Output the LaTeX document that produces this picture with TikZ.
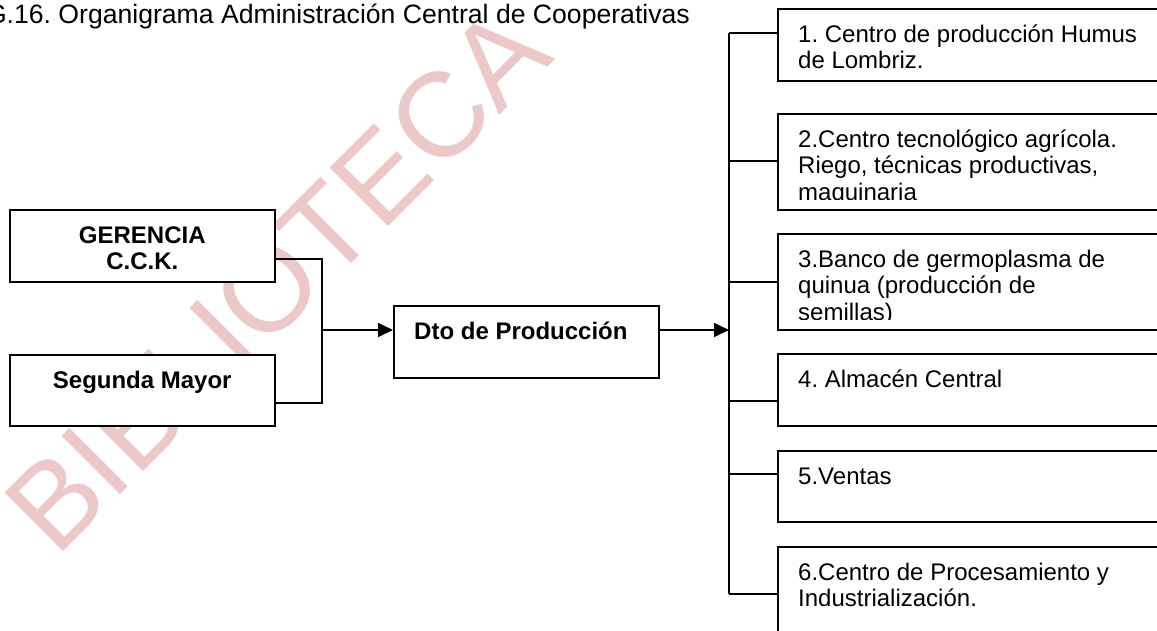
\documentclass[tikz,border=0pt]{standalone}
\usepackage{fontspec}
\setmainfont{Liberation Sans}
\usepackage{tikz}
\usetikzlibrary{calc,arrows.meta,positioning}
\definecolor{marca}{RGB}{236,200,200}
\frenchspacing
\tikzstyle{box} = [rectangle, draw, line width=1.5pt, fill=white, anchor=north west, inner sep=0pt]
\tikzstyle{txt} = [anchor=north west, inner sep=0pt, align=left, font=\fontsize{24}{26.5}\selectfont]
\tikzstyle{btxt} = [anchor=north, inner sep=0pt, align=center, font=\bfseries\fontsize{24}{26.5}\selectfont]
\tikzstyle{line} = [line width=1.5pt]
\tikzstyle{arrow} = [line width=1.5pt,-{Triangle[length=15pt,width=14pt]}]

\begin{document}
\begin{tikzpicture}[x=1pt,y=-1pt]
\useasboundingbox[fill=white] (0,0) rectangle (1157,630);
\node (marca) [anchor=base west, inner sep=0pt, rotate=45, text=marca, font=\fontsize{120}{130}\selectfont] at (56,559) {BIBLIOTECA};
\node (title) [anchor=base east, inner sep=0pt, font=\fontsize{26.6}{30}\selectfont] at (690,23) {FIG.16. Organigrama Administración Central de Cooperativas};
\node (ger) [box, minimum width=265pt, minimum height=72pt] at (9,209) {};
\node (seg) [box, minimum width=265pt, minimum height=71pt] at (9,354) {};
\node (dto) [box, minimum width=265pt, minimum height=72pt] at (393,305) {};
\node (b1) [box, minimum width=403pt, minimum height=72pt] at (777,8) {};
\node (b2) [box, minimum width=403pt, minimum height=96pt] at (777,113) {};
\node (b3) [box, minimum width=403pt, minimum height=96pt] at (777,233) {};
\node (b4) [box, minimum width=403pt, minimum height=72pt] at (777,353) {};
\node (b5) [box, minimum width=403pt, minimum height=71pt] at (777,450) {};
\node (b6) [box, minimum width=403pt, minimum height=96pt] at (777,546) {};
\node (tger) [btxt] at ([yshift=-15.5pt]ger.north) {\strut GERENCIA\\C.C.K.};
\node (tseg) [btxt] at ([yshift=-15.5pt]seg.north) {\strut Segunda Mayor};
\node (tdto) [txt, font=\bfseries\fontsize{24}{26.5}\selectfont] at ([xshift=21pt,yshift=-15.5pt]dto.north west) {\strut Dto de Producción};
\node (t1) [txt] at ([xshift=21pt,yshift=-15.5pt]b1.north west) {\strut 1. Centro de producción Humus\\de Lombriz.};
\begin{scope}
\clip (b2.north west) rectangle ([yshift=11pt]b2.south east);
\node (t2) [txt] at ([xshift=21pt,yshift=-15.5pt]b2.north west) {\strut 2.Centro tecnológico agrícola.\\Riego, técnicas productivas,\\maquinaria};
\end{scope}
\begin{scope}
\clip (b3.north west) rectangle ([yshift=11pt]b3.south east);
\node (t3) [txt] at ([xshift=21pt,yshift=-15.5pt]b3.north west) {\strut 3.Banco de germoplasma de\\quinua (producción de\\semillas)};
\end{scope}
\node (t4) [txt] at ([xshift=21pt,yshift=-15.5pt]b4.north west) {\strut 4. Almacén Central};
\node (t5) [txt] at ([xshift=21pt,yshift=-15.5pt]b5.north west) {\strut 5.Ventas};
\node (t6) [txt] at ([xshift=21pt,yshift=-15.5pt]b6.north west) {\strut 6.Centro de Procesamiento y\\Industrialización.};
\coordinate (jn) at (322,330);
\coordinate (tr) at (729,330);
\draw [line] ([yshift=-13pt]ger.east) -| (jn);
\draw [line] ([yshift=-12.5pt]seg.east) -| (jn);
\draw [arrow] (jn) -- (jn -| dto.west);
\draw [arrow] (dto.east |- jn) -- (tr);
\foreach \b/\s in {b1/12,b2/1,b3/0,b4/-11,b5/12.5,b6/1}
{
\path ([yshift=\s pt]\b.west) coordinate (p\b);
\draw [line] (p\b) -- (p\b -| tr);
}
\draw [line] (tr |- pb1) -- (tr |- pb6);
\end{tikzpicture}
\end{document}
